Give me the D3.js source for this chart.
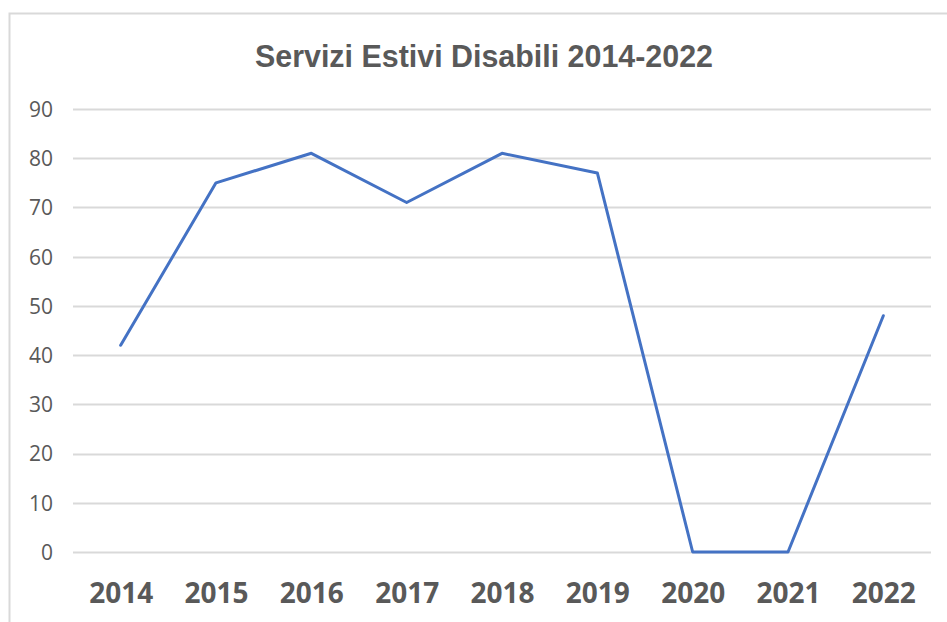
<!DOCTYPE html>
<html>
<head>
<meta charset="utf-8">
<script src="https://cdn.jsdelivr.net/npm/d3@7"></script>
<style>
	body { margin: 0; background: #fff; }
	#chart { width: 947px; height: 622px; }
	.title { font-family: "Liberation Sans Narrow", "Liberation Sans", Arial, sans-serif; font-weight: bold; fill: #595959; }
	.y_axis text { font-family: "Open Sans", "Noto Sans", sans-serif; fill: #595959; font-size: 21px; }
	.x_axis text { font-family: "Open Sans", "Noto Sans", sans-serif; font-weight: bold; fill: #595959; font-size: 28px; }
</style>
</head>
<body>
<div id="chart"></div>
<script>
"use strict"

const years = ["2014", "2015", "2016", "2017", "2018", "2019", "2020", "2021", "2022"];
const values = [42, 75, 81, 71, 81, 77, 0, 0, 48];
const yTicks = [0, 10, 20, 30, 40, 50, 60, 70, 80, 90];
const chartTitle = "Servizi Estivi Disabili 2014-2022";

let totalWidth = 947,
	totalHeight = 622;
let margin = {left: 73, right: 16, top: 109, bottom: 70};
let width = totalWidth - margin.left - margin.right;
let height = totalHeight - margin.top - margin.bottom;

let svg = d3.select("#chart").append("svg")
	.attr("width", totalWidth)
	.attr("height", totalHeight);

// chart area frame (left + top visible)
svg.append("path")
	.attr("d", `M9.5,${totalHeight} V13.5 H${totalWidth}`)
	.attr("fill", "none")
	.attr("stroke", "#d9d9d9")
	.attr("stroke-width", 2);

// title squeezed a bit to look like the narrow office font
svg.append("text")
	.attr("class", "title")
	.attr("x", 484)
	.attr("y", 67)
	.attr("text-anchor", "middle")
	.attr("textLength", 458)
	.attr("lengthAdjust", "spacingAndGlyphs")
	.style("font-size", "32px")
	.text(chartTitle);

let g = svg.append("g").attr("transform", `translate(${margin.left},${margin.top})`);

let xScale = d3.scalePoint().domain(years).range([0, width]).padding(0.5);
let yScale = d3.scaleLinear().domain([0, 90]).range([height, 0]);

// gridlines
g.append("g").attr("class", "grid")
	.selectAll("line")
	.data(yTicks)
	.enter().append("line")
		.attr("x1", 0)
		.attr("x2", width)
		.attr("y1", d => Math.round(yScale(d)) + 0.5)
		.attr("y2", d => Math.round(yScale(d)) + 0.5)
		.attr("stroke", "#d9d9d9")
		.attr("stroke-width", 2);

let yAxis = g.append("g").attr("class", "y_axis")
	.call(d3.axisLeft(yScale).tickValues(yTicks).tickSize(0).tickPadding(20));
yAxis.select(".domain").remove();
yAxis.selectAll("text").attr("dy", "0.35em");

let xAxis = g.append("g").attr("class", "x_axis")
	.attr("transform", `translate(0,${height})`)
	.call(d3.axisBottom(xScale).tickSize(0).tickPadding(31));
xAxis.select(".domain").remove();

let line = d3.line()
	.x((d, i) => xScale(years[i]))
	.y(d => yScale(d));

g.append("path")
	.datum(values)
	.attr("d", line)
	.attr("fill", "none")
	.attr("stroke", "#4472c4")
	.attr("stroke-width", 3)
	.attr("stroke-linejoin", "round")
	.attr("stroke-linecap", "round");
</script>
</body>
</html>
